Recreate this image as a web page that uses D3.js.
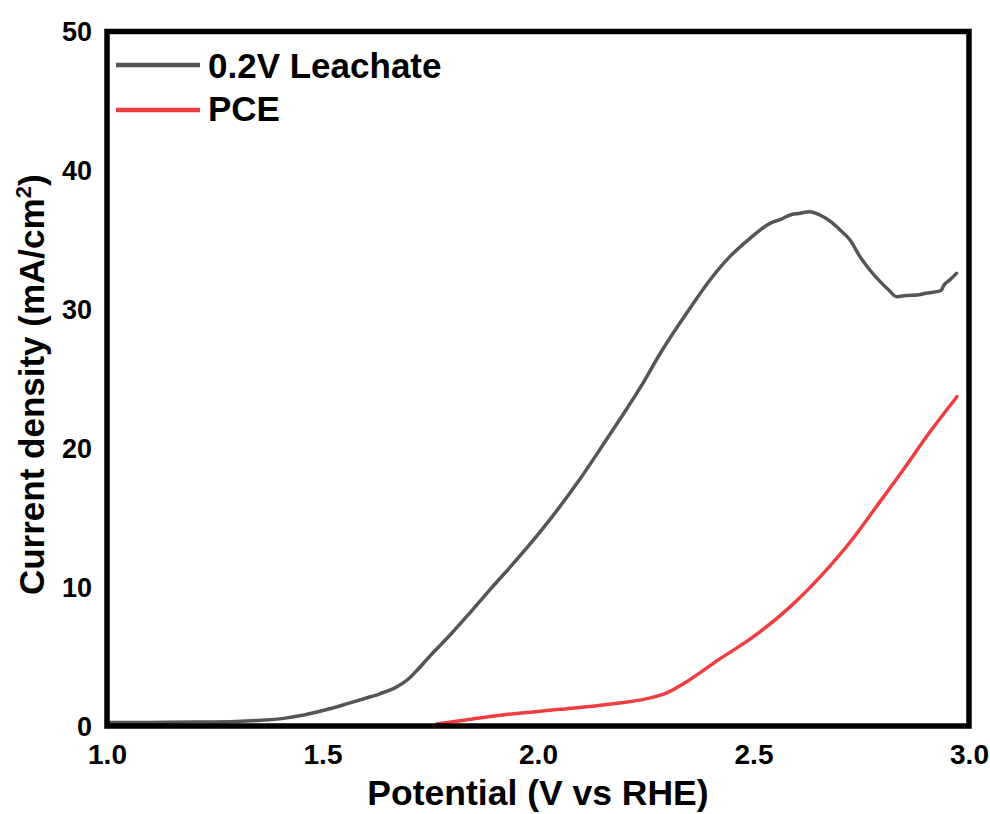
<!DOCTYPE html>
<html>
<head>
<meta charset="utf-8">
<script src="https://cdn.jsdelivr.net/npm/d3@7"></script>
<style>
  html, body { margin: 0; padding: 0; background: #fff; }
  svg text { font-family: "Liberation Sans", Arial, sans-serif; font-weight: bold; fill: #000; }
</style>
</head>
<body>
<svg id="chart" width="990" height="814"></svg>
<script>
// ---- data ----
const xTicks = [1.0, 1.5, 2.0, 2.5, 3.0];
const yTicks = [0, 10, 20, 30, 40, 50];
const seriesNames = ["0.2V Leachate", "PCE"];
const seriesColors = ["#555555", "#ef3e42"];

const leachateV = [1.00, 1.10, 1.20, 1.30, 1.35, 1.41, 1.45, 1.49, 1.53, 1.56, 1.60, 1.633, 1.673, 1.70, 1.72, 1.749, 1.796, 1.842, 1.889, 1.958, 2.028, 2.097, 2.144, 2.190, 2.240, 2.283, 2.353, 2.399, 2.445, 2.492, 2.538, 2.565, 2.585, 2.605, 2.631, 2.654, 2.680, 2.701, 2.724, 2.747, 2.770, 2.794, 2.815, 2.832, 2.855, 2.879, 2.900, 2.925, 2.935, 2.942, 2.955, 2.971];
const leachateJ = [0.25, 0.26, 0.28, 0.33, 0.40, 0.55, 0.75, 1.03, 1.35, 1.63, 2.00, 2.32, 2.83, 3.40, 4.03, 5.03, 6.55, 8.15, 9.83, 12.24, 14.88, 17.76, 19.92, 22.08, 24.50, 26.80, 30.10, 32.11, 33.79, 35.11, 36.19, 36.50, 36.79, 36.90, 37.03, 36.79, 36.30, 35.71, 34.99, 33.79, 32.83, 31.99, 31.35, 30.91, 31.00, 31.03, 31.15, 31.27, 31.35, 31.75, 32.10, 32.59];

const pceV = [1.765, 1.832, 1.930, 2.052, 2.150, 2.255, 2.296, 2.345, 2.418, 2.500, 2.581, 2.662, 2.728, 2.785, 2.850, 2.907, 2.972];
const pceJ = [0.15, 0.43, 0.84, 1.20, 1.51, 1.99, 2.35, 3.19, 4.75, 6.43, 8.47, 10.99, 13.39, 15.79, 18.55, 21.07, 23.71];

// ---- chart ----
const svg = d3.select("#chart");
const pL = 107, pR = 969, pT = 31.5, pB = 726;

const x = d3.scaleLinear().domain([1, 3]).range([pL, pR]);
const y = d3.scaleLinear().domain([0, 50]).range([pB, pT]);

const line = d3.line()
  .x(d => x(d[0]))
  .y(d => y(d[1]))
  .curve(d3.curveMonotoneX);

const series = [
  d3.zip(leachateV, leachateJ),
  d3.zip(pceV, pceJ)
];

// lines
series.forEach((s, i) => {
  svg.append("path")
    .datum(s)
    .attr("fill", "none")
    .attr("stroke", seriesColors[i])
    .attr("stroke-width", 3.5)
    .attr("stroke-linejoin", "round")
    .attr("stroke-linecap", "round")
    .attr("d", line);
});

// axes (labels only, no tick marks)
const xAxis = svg.append("g")
  .attr("transform", `translate(0,${pB})`)
  .call(d3.axisBottom(x).tickValues(xTicks).tickFormat(d3.format(".1f")).tickSize(0).tickPadding(0));
xAxis.select(".domain").remove();
xAxis.selectAll("text")
  .attr("y", 38)
  .attr("dy", null)
  .style("font-size", "28px")
  .style("font-family", "Liberation Sans, Arial, sans-serif")
  .style("font-weight", "bold")
  .attr("fill", "#000");

const yAxis = svg.append("g")
  .attr("transform", `translate(${pL},0)`)
  .call(d3.axisLeft(y).tickValues(yTicks).tickFormat(d3.format("d")).tickSize(0).tickPadding(0));
yAxis.select(".domain").remove();
yAxis.selectAll("text")
  .attr("x", -15)
  .attr("dy", "0.35em")
  .style("font-size", "27px")
  .style("font-family", "Liberation Sans, Arial, sans-serif")
  .style("font-weight", "bold")
  .attr("fill", "#000");

// frame
svg.append("rect")
  .attr("x", pL).attr("y", pT)
  .attr("width", pR - pL).attr("height", pB - pT)
  .attr("fill", "none")
  .attr("stroke", "#000")
  .attr("stroke-width", 5.5);

// axis titles
svg.append("text")
  .attr("x", (pL + pR) / 2)
  .attr("y", 805)
  .attr("text-anchor", "middle")
  .style("font-size", "35.5px")
  .text("Potential (V vs RHE)");

const yt = svg.append("text")
  .attr("transform", `translate(44,${(pT + pB) / 2 + 6}) rotate(-90)`)
  .attr("text-anchor", "middle")
  .style("font-size", "35px");
yt.append("tspan").text("Current density (mA/cm");
yt.append("tspan").attr("dy", -13).style("font-size", "22px").text("2");
yt.append("tspan").attr("dy", 13).text(")");

// legend
const legendY = [65, 110];
const legendBase = [78, 121];
seriesNames.forEach((name, i) => {
  svg.append("line")
    .attr("x1", 116).attr("x2", 200)
    .attr("y1", legendY[i]).attr("y2", legendY[i])
    .attr("stroke", seriesColors[i])
    .attr("stroke-width", 4.5);
  svg.append("text")
    .attr("x", 208)
    .attr("y", legendBase[i])
    .style("font-size", "35px")
    .text(name);
});
</script>
</body>
</html>
